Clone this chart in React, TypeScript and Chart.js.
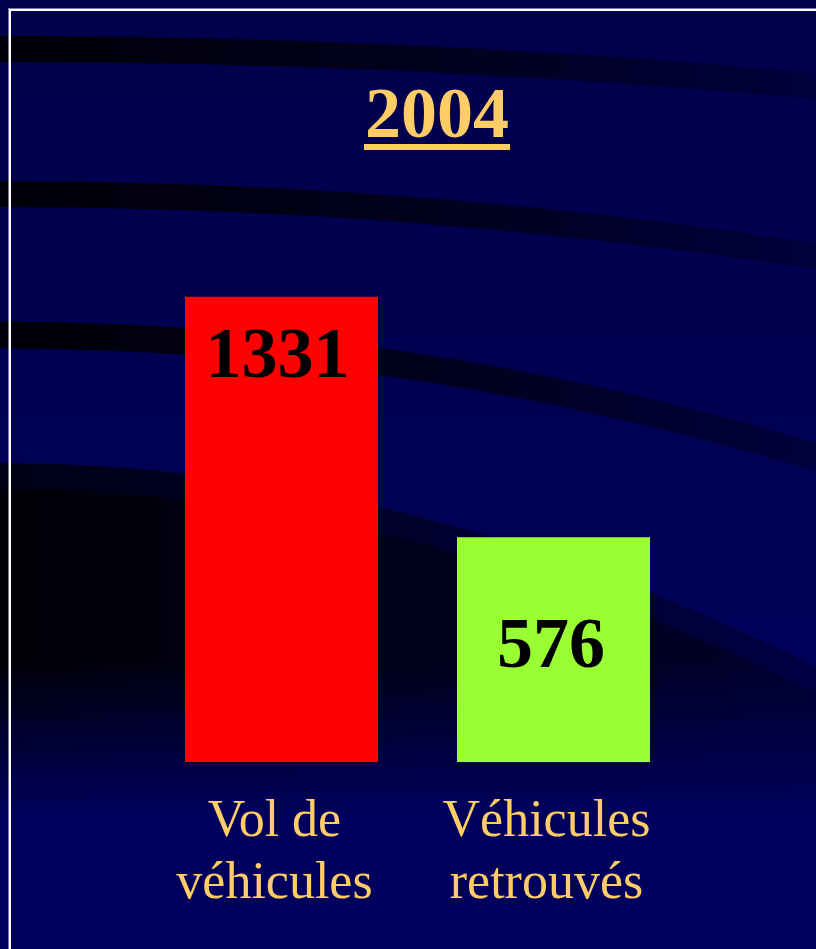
import React, { useEffect, useRef } from "react";
import { Chart, registerables } from "chart.js";

Chart.register(...registerables);

// ---- data ----
const TITLE = "2004";
const CATEGORIES: string[][] = [
  ["Vol de", "véhicules"],
  ["Véhicules", "retrouvés"],
];
const VALUES: number[] = [1331, 576];
const BAR_COLORS: string[] = ["#FF0000", "#99FF33"];
const Y_MIN = -130;
const Y_MAX = 1500;

// ---- style ----
const W = 816;
const H = 949;
const GOLD = "#FFCC66";
const SERIF = "'Liberation Serif', 'Times New Roman', serif";
const LABEL_DX = [-4, -2.5];
const LABEL_DY = [80, 130];

const backgroundPlugin = {
  id: "bgPlugin",
  beforeDraw(chart: any) {
    const ctx: CanvasRenderingContext2D = chart.ctx;
    ctx.save();
    const base = ctx.createLinearGradient(0, 0, 0, H);
    base.addColorStop(0, "#00004b");
    base.addColorStop(1, "#00005e");
    ctx.fillStyle = base;
    ctx.fillRect(0, 0, W, H);

    const stripe = (y0: number, y2: number, width: number) => {
      const sg = ctx.createLinearGradient(0, 0, W, 0);
      sg.addColorStop(0, "#000008");
      sg.addColorStop(0.55, "#00001e");
      sg.addColorStop(1, "#00003c");
      ctx.strokeStyle = sg;
      ctx.lineWidth = width;
      ctx.lineCap = "butt";
      const slope = (2 * (y2 - y0)) / W;
      ctx.beginPath();
      ctx.moveTo(-40, y0);
      ctx.lineTo(0, y0);
      ctx.quadraticCurveTo(W / 2, y0, W, y2);
      ctx.lineTo(W + 60, y2 + slope * 60);
      ctx.stroke();
    };
    stripe(49, 86, 26);
    stripe(194, 256, 26);
    stripe(335, 457, 27);

    const region = (y0: number, y2: number, c0: string, c1: string) => {
      const rg = ctx.createLinearGradient(0, 0, W, 0);
      rg.addColorStop(0, c0);
      rg.addColorStop(1, c1);
      ctx.fillStyle = rg;
      ctx.beginPath();
      ctx.moveTo(0, y0);
      ctx.quadraticCurveTo(W / 2, y0, W, y2);
      ctx.lineTo(W, H);
      ctx.lineTo(0, H);
      ctx.closePath();
      ctx.fill();
    };
    region(463, 667, "#000016", "#000042");
    region(489, 693, "#000006", "#00002c");

    const fade = ctx.createLinearGradient(0, 660, 0, 815);
    fade.addColorStop(0, "rgba(0,0,90,0)");
    fade.addColorStop(1, "rgba(0,0,92,1)");
    ctx.fillStyle = fade;
    ctx.fillRect(0, 660, W, H - 660);

    // frame
    ctx.fillStyle = "rgba(170,170,210,0.7)";
    ctx.fillRect(8, 8, W - 8, 1);
    ctx.fillRect(8, 8, 1, H - 8);
    ctx.fillStyle = "#FFFFFF";
    ctx.fillRect(9, 9, W - 9, 2);
    ctx.fillRect(9, 9, 2, H - 9);
    ctx.restore();
  },
};

const titlePlugin = {
  id: "titlePlugin",
  afterDraw(chart: any) {
    const ctx: CanvasRenderingContext2D = chart.ctx;
    ctx.save();
    ctx.font = `bold 72px ${SERIF}`;
    ctx.fillStyle = GOLD;
    ctx.textAlign = "center";
    ctx.textBaseline = "alphabetic";
    const cx = 437;
    ctx.fillText(TITLE, cx, 137);
    const w = ctx.measureText(TITLE).width;
    ctx.fillRect(cx - w / 2 - 1, 144, w + 2, 6);
    ctx.restore();
  },
};

const valueLabelPlugin = {
  id: "valueLabelPlugin",
  afterDatasetsDraw(chart: any) {
    const ctx: CanvasRenderingContext2D = chart.ctx;
    const meta = chart.getDatasetMeta(0);
    ctx.save();
    ctx.font = `bold 72px ${SERIF}`;
    ctx.fillStyle = "#000000";
    ctx.textAlign = "center";
    ctx.textBaseline = "alphabetic";
    meta.data.forEach((bar: any, i: number) => {
      ctx.fillText(String(VALUES[i]), bar.x + LABEL_DX[i], bar.y + LABEL_DY[i]);
    });
    ctx.restore();
  },
};

export default function App() {
  const ref = useRef<HTMLCanvasElement>(null);
  useEffect(() => {
    if (!ref.current) return;
    const chart = new Chart(ref.current, {
      type: "bar",
      data: {
        labels: CATEGORIES,
        datasets: [
          {
            data: VALUES,
            backgroundColor: BAR_COLORS,
            borderWidth: 0,
            base: Y_MIN,
            categoryPercentage: 1,
            barPercentage: 193 / 272,
          } as any,
        ],
      },
      options: {
        responsive: false,
        devicePixelRatio: 1,
        animation: false,
        events: [],
        layout: { padding: { left: 145.5, right: 126.5, top: 243, bottom: 4 } },
        plugins: {
          legend: { display: false },
          tooltip: { enabled: false },
          title: { display: false },
        },
        scales: {
          x: {
            grid: { display: false, drawTicks: false },
            border: { display: false },
            ticks: {
              color: GOLD,
              font: { family: SERIF, size: 52, lineHeight: 1.2 },
              padding: 29,
              labelOffset: -7,
              maxRotation: 0,
              minRotation: 0,
              autoSkip: false,
            },
          },
          y: {
            display: false,
            min: Y_MIN,
            max: Y_MAX,
          },
        },
      },
      plugins: [backgroundPlugin, titlePlugin, valueLabelPlugin],
    });
    return () => chart.destroy();
  }, []);
  return (
    <div style={{ position: "absolute", left: 0, top: 0, width: W, height: H }}>
      <canvas ref={ref} width={W} height={H} style={{ display: "block" }} />
    </div>
  );
}
